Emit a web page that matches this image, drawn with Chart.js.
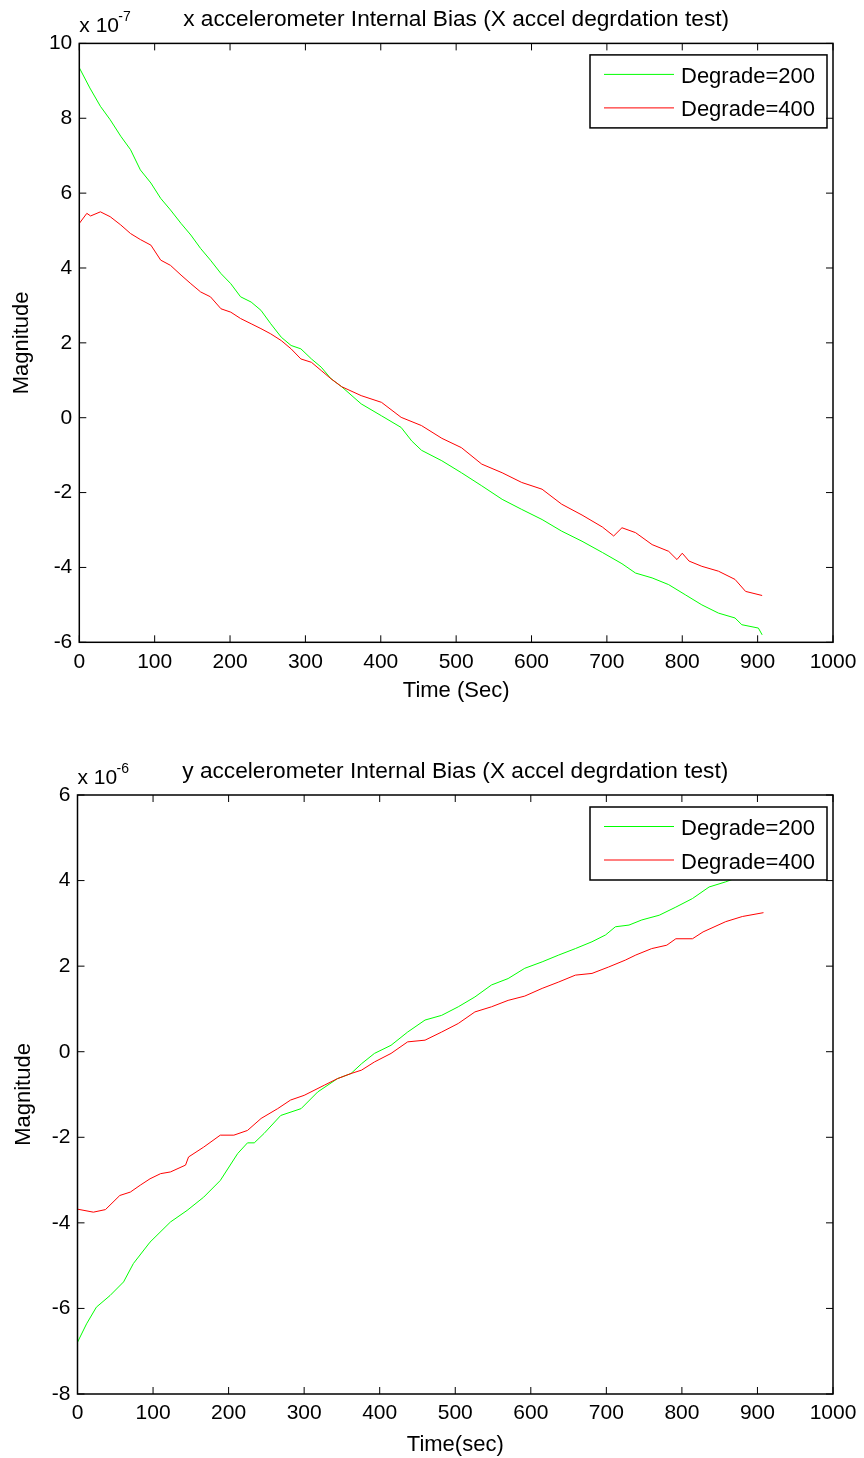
<!DOCTYPE html>
<html>
<head>
<meta charset="utf-8">
<script src="https://cdn.jsdelivr.net/npm/chart.js@4.4.0/dist/chart.umd.min.js"></script>
<style>
  body { margin: 0; background: #fff; }
  canvas { display: block; }
</style>
</head>
<body>
<canvas id="xChart" width="864" height="729"></canvas>
<canvas id="yChart" width="864" height="729"></canvas>
<script>
// x accelerometer internal bias (values in units of 1e-7)
const xTime200 = [0, 14, 28, 41, 55, 68, 81, 95, 108, 121, 135, 148, 161, 174, 188, 201, 214, 228, 241, 254, 268, 281, 294, 308, 321, 334, 348, 374, 401, 427, 441, 454, 481, 507, 534, 561, 587, 614, 640, 667, 694, 720, 738, 760, 782, 804, 826, 848, 870, 879, 901, 906];
const xBias200 = [9.35, 8.81, 8.32, 7.96, 7.52, 7.16, 6.62, 6.27, 5.86, 5.55, 5.19, 4.88, 4.52, 4.21, 3.85, 3.58, 3.23, 3.09, 2.87, 2.51, 2.15, 1.93, 1.84, 1.57, 1.35, 1.04, 0.83, 0.37, 0.05, -0.26, -0.62, -0.87, -1.15, -1.47, -1.82, -2.18, -2.45, -2.72, -3.03, -3.30, -3.60, -3.90, -4.15, -4.28, -4.46, -4.73, -5.00, -5.22, -5.35, -5.53, -5.62, -5.80];
const xTime400 = [0, 10, 15, 28, 41, 55, 68, 81, 95, 108, 121, 135, 148, 161, 174, 188, 201, 214, 228, 241, 254, 268, 281, 294, 308, 321, 334, 348, 374, 401, 427, 454, 481, 507, 534, 561, 587, 614, 640, 667, 694, 709, 720, 738, 760, 782, 793, 800, 809, 826, 848, 870, 884, 906];
const xBias400 = [5.19, 5.46, 5.39, 5.50, 5.37, 5.15, 4.92, 4.76, 4.61, 4.21, 4.07, 3.81, 3.58, 3.36, 3.23, 2.91, 2.82, 2.65, 2.51, 2.38, 2.24, 2.06, 1.84, 1.57, 1.48, 1.26, 1.04, 0.83, 0.59, 0.41, 0.01, -0.21, -0.55, -0.80, -1.24, -1.47, -1.73, -1.91, -2.31, -2.60, -2.92, -3.16, -2.94, -3.07, -3.39, -3.57, -3.79, -3.62, -3.83, -3.97, -4.10, -4.32, -4.64, -4.75];

// y accelerometer internal bias (values in units of 1e-6)
const yTime200 = [0, 12, 25, 43, 61, 74, 96, 123, 145, 167, 189, 212, 225, 234, 247, 269, 296, 318, 344, 362, 376, 393, 415, 437, 460, 482, 504, 526, 548, 570, 592, 615, 637, 659, 681, 699, 712, 730, 747, 770, 792, 814, 836, 858, 867, 885, 903];
const yBias200 = [-6.79, -6.36, -5.97, -5.70, -5.38, -4.95, -4.45, -3.98, -3.71, -3.40, -3.01, -2.38, -2.13, -2.13, -1.91, -1.49, -1.33, -0.94, -0.63, -0.51, -0.28, -0.04, 0.15, 0.46, 0.74, 0.85, 1.05, 1.28, 1.56, 1.71, 1.95, 2.10, 2.26, 2.41, 2.57, 2.73, 2.92, 2.96, 3.08, 3.19, 3.38, 3.58, 3.85, 3.97, 4.03, 4.15, 4.25];
const yTime400 = [0, 21, 37, 56, 70, 83, 96, 110, 123, 143, 147, 167, 189, 207, 225, 243, 265, 282, 300, 327, 344, 362, 376, 393, 415, 437, 460, 482, 504, 526, 548, 570, 592, 615, 637, 659, 681, 703, 725, 739, 760, 780, 792, 814, 828, 858, 880, 908];
const yBias400 = [-3.68, -3.75, -3.69, -3.36, -3.28, -3.12, -2.97, -2.85, -2.81, -2.65, -2.46, -2.23, -1.95, -1.95, -1.84, -1.56, -1.33, -1.13, -1.02, -0.78, -0.63, -0.51, -0.43, -0.24, -0.04, 0.23, 0.27, 0.46, 0.66, 0.93, 1.05, 1.20, 1.30, 1.48, 1.63, 1.79, 1.83, 1.98, 2.14, 2.26, 2.41, 2.49, 2.64, 2.64, 2.80, 3.04, 3.16, 3.25];

const seriesLabels = ["Degrade=200", "Degrade=400"];
const seriesColors = ["#00ff00", "#ff0000"];
const timeTicks = [0, 100, 200, 300, 400, 500, 600, 700, 800, 900, 1000];

const FONT = "'Liberation Sans', Arial, sans-serif";

function toPoints(xs, ys) {
  return xs.map((t, i) => ({ x: t, y: ys[i] }));
}

// MATLAB style box, inward ticks, legend, title and exponent label
const matlabAxes = {
  id: "matlabAxes",
  afterDatasetsDraw(chart, args, opts) {
    const { ctx, chartArea: a, scales } = chart;
    const xs = scales.x;
    const ys = scales.y;
    ctx.save();

    // legend box (opaque, covers lines)
    const lw = 237, lh = 73;
    const lx = a.right - 6 - lw;
    const ly = a.top + opts.legendTop;
    ctx.fillStyle = "#fff";
    ctx.fillRect(lx, ly, lw, lh);
    ctx.strokeStyle = "#000";
    ctx.lineWidth = 1.5;
    ctx.strokeRect(lx, ly, lw, lh);
    ctx.font = "22px " + FONT;
    ctx.textBaseline = "middle";
    ctx.textAlign = "left";
    chart.data.datasets.forEach((ds, i) => {
      const rowY = ly + 19.5 + i * 33.5;
      ctx.strokeStyle = ds.borderColor;
      ctx.lineWidth = 1;
      ctx.beginPath();
      ctx.moveTo(lx + 14, rowY);
      ctx.lineTo(lx + 84, rowY);
      ctx.stroke();
      ctx.fillStyle = "#000";
      ctx.fillText(ds.label, lx + 91, rowY + 2.5);
    });

    // axes box
    ctx.strokeStyle = "#000";
    ctx.lineWidth = 1.5;
    ctx.strokeRect(a.left, a.top, a.right - a.left, a.bottom - a.top);

    // inward tick marks on all four sides
    ctx.lineWidth = 1;
    ctx.beginPath();
    xs.ticks.forEach((t) => {
      const px = xs.getPixelForValue(t.value);
      ctx.moveTo(px, a.bottom);
      ctx.lineTo(px, a.bottom - 7);
      ctx.moveTo(px, a.top);
      ctx.lineTo(px, a.top + 7);
    });
    ys.ticks.forEach((t) => {
      const py = ys.getPixelForValue(t.value);
      ctx.moveTo(a.left, py);
      ctx.lineTo(a.left + 7, py);
      ctx.moveTo(a.right, py);
      ctx.lineTo(a.right - 7, py);
    });
    ctx.stroke();

    // title
    ctx.fillStyle = "#000";
    ctx.textAlign = "center";
    ctx.textBaseline = "alphabetic";
    ctx.font = "22.7px " + FONT;
    ctx.fillText(opts.title, (a.left + a.right) / 2, a.top - 17.5);

    // exponent label
    ctx.textAlign = "left";
    ctx.font = "21px " + FONT;
    ctx.fillText("x 10", a.left, a.top - 11.5);
    ctx.font = "14px " + FONT;
    ctx.fillText(opts.exponent, a.left + 39, a.top - 22);

    ctx.restore();
  },
};

function makeChart(id, cfg) {
  return new Chart(document.getElementById(id), {
    type: "line",
    data: {
      datasets: [
        {
          label: seriesLabels[0],
          data: toPoints(cfg.t200, cfg.b200),
          borderColor: seriesColors[0],
          borderWidth: 1,
          pointRadius: 0,
          tension: 0,
          order: 2,
        },
        {
          label: seriesLabels[1],
          data: toPoints(cfg.t400, cfg.b400),
          borderColor: seriesColors[1],
          borderWidth: 1,
          pointRadius: 0,
          tension: 0,
          order: 1,
        },
      ],
    },
    options: {
      responsive: false,
      animation: false,
      devicePixelRatio: 1,
      layout: { padding: { top: cfg.top, right: 31, left: 0, bottom: 0 } },
      plugins: {
        legend: { display: false },
        tooltip: { enabled: false },
        matlabAxes: { title: cfg.title, exponent: cfg.exponent, legendTop: cfg.legendTop },
      },
      scales: {
        x: {
          type: "linear",
          min: 0,
          max: 1000,
          afterBuildTicks: (s) => { s.ticks = timeTicks.map((v) => ({ value: v })); },
          ticks: {
            color: "#000",
            font: { family: FONT, size: 21 },
            padding: 7,
            maxRotation: 0,
            callback: (v) => String(v),
          },
          grid: { display: false, drawTicks: false },
          border: { display: false },
          title: {
            display: true,
            text: cfg.xTitle,
            color: "#000",
            font: { family: FONT, size: 22 },
            padding: { top: 0, bottom: cfg.xTitlePad },
          },
          afterFit: (s) => {
            s.height = cfg.xHeight;
            s.paddingLeft = 0; s.paddingRight = 0;
          },
        },
        y: {
          min: cfg.yMin,
          max: cfg.yMax,
          ticks: {
            stepSize: 2,
            color: "#000",
            font: { family: FONT, size: 21 },
            padding: 7,
            callback: (v) => String(v),
          },
          grid: { display: false, drawTicks: false },
          border: { display: false },
          title: {
            display: true,
            text: "Magnitude",
            color: "#000",
            font: { family: FONT, size: 22 },
            padding: { top: cfg.yTitlePad, bottom: 0 },
          },
          afterFit: (s) => {
            s.width = cfg.yWidth;
            s.paddingTop = 0; s.paddingBottom = 0;
          },
        },
      },
    },
    plugins: [matlabAxes],
  });
}

makeChart("xChart", {
  t200: xTime200, b200: xBias200, t400: xTime400, b400: xBias400,
  title: "x accelerometer Internal Bias (X accel degrdation test)",
  exponent: "-7",
  xTitle: "Time (Sec)",
  yMin: -6, yMax: 10,
  top: 43.4, xHeight: 86.7, yWidth: 79.3,
  xTitlePad: 24.8, yTitlePad: 8.8, legendTop: 11.5,
});

makeChart("yChart", {
  t200: yTime200, b200: yBias200, t400: yTime400, b400: yBias400,
  title: "y accelerometer Internal Bias (X accel degrdation test)",
  exponent: "-6",
  xTitle: "Time(sec)",
  yMin: -8, yMax: 6,
  top: 66, xHeight: 64, yWidth: 77.5,
  xTitlePad: 0, yTitlePad: 10.8, legendTop: 12,
});
</script>
</body>
</html>
